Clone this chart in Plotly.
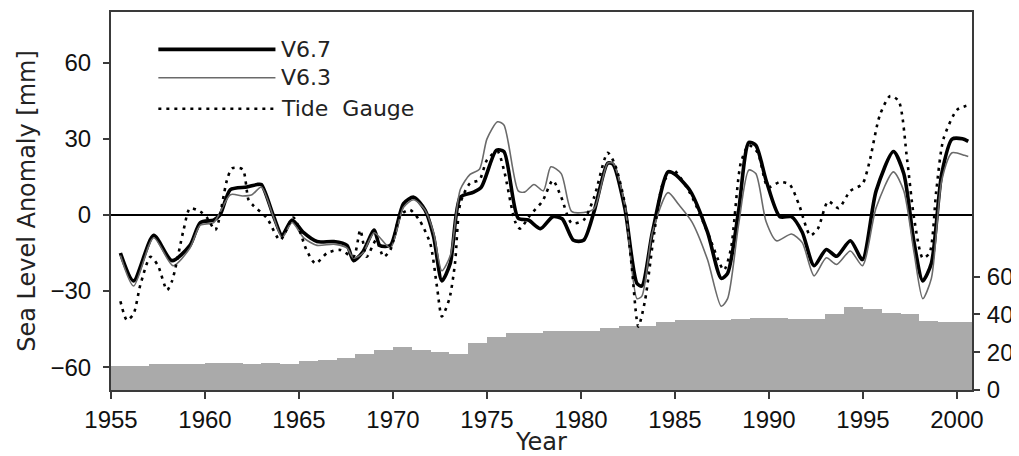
import plotly.graph_objects as go

# ---------------- data ----------------
years_v67 = [1955.5, 1956.2, 1957.27, 1958.24, 1959.2, 1959.75, 1960.46, 1960.8, 1961.35, 1962.23,
             1962.77, 1963.0, 1963.65, 1964.1, 1964.63, 1965.25, 1965.96, 1966.85, 1967.55, 1967.9,
             1968.4, 1969.0, 1969.3, 1969.86, 1970.56, 1971.1, 1971.7, 1972.16, 1972.6, 1973.05,
             1973.58, 1974.29, 1974.7, 1975.5, 1975.9, 1976.66, 1977.2, 1977.85, 1978.5, 1979.0,
             1979.6, 1980.14, 1980.7, 1981.42, 1981.7, 1982.33, 1982.98, 1983.24, 1983.8, 1984.63,
             1985.0, 1985.81, 1986.73, 1987.46, 1987.8, 1988.38, 1988.93, 1989.3, 1989.85, 1990.58,
             1991.2, 1991.77, 1992.4, 1993.05, 1993.6, 1994.33, 1994.97, 1995.7, 1996.62, 1997.17,
             1997.72, 1998.18, 1998.64, 1999.19, 1999.74, 2000.29, 2000.6]
sla_v67 = [-15, -26, -8, -18, -12, -3, -2, 0, 10, 11,
           12, 12, -0.5, -8, -2, -7, -10.5, -10.5, -12, -18,
           -14.5, -6, -12, -12, 4.5, 7, 2, -8.5, -26, -19,
           7, 9, 11, 25.5, 25, -1.3, -2, -5.4, -0.7, -1.5,
           -10, -10, 1.4, 20.4, 20, 2.8, -27, -28, -6.8, 17,
           16, 9.5, -6.8, -25, -23, 1.4, 28.6, 27.5, 13.6, -0.7,
           -0.7, -6.8, -20, -13.6, -16.3, -10.2, -17.6, 9.5, 25, 16.3,
           -10.9, -26, -19, 16.3, 29.9, 30, 29]

years_v63 = [1955.5, 1956.2, 1957.27, 1958.3, 1959.2, 1959.75, 1960.46, 1961.35, 1962.0, 1962.5,
             1963.0, 1963.65, 1964.1, 1964.63, 1965.25, 1965.96, 1966.85, 1967.55, 1967.9, 1968.4,
             1969.0, 1969.86, 1970.56, 1971.1, 1971.7, 1972.16, 1972.6, 1973.05, 1973.58, 1974.1,
             1974.6, 1975.0, 1975.56, 1975.9, 1976.66, 1977.0, 1977.5, 1978.0, 1978.4, 1978.95,
             1979.5, 1980.14, 1980.7, 1981.42, 1981.7, 1982.33, 1982.98, 1983.24, 1983.8, 1984.63,
             1985.2, 1985.9, 1986.73, 1987.46, 1987.8, 1988.38, 1988.93, 1989.3, 1989.85, 1990.4,
             1991.2, 1991.77, 1992.4, 1993.05, 1993.6, 1994.33, 1994.97, 1995.7, 1996.62, 1997.17,
             1997.72, 1998.18, 1998.64, 1999.19, 1999.74, 2000.4, 2000.6]
sla_v63 = [-16, -28, -9, -20, -13, -4, -3, 8, 7.5, 8,
           11, -1, -9, -3, -9, -12, -11.5, -13, -17, -15,
           -7, -13, 3, 6, 2, -7, -22, -16, 10, 16,
           18, 30, 36.7, 35.5, 9.5, 9, 12, 9.5, 19, 16.3,
           1.4, 1, 2.5, 20.4, 20.4, 4, -33, -32, -6.8, 8.8,
           4.1, -2.7, -17.6, -36, -33, -4, 17.7, 16.3, -2.7, -10.2,
           -7.5, -10.9, -24, -16.9, -19.5, -14.2, -20, 2.8, 17, 9.5,
           -14.9, -33, -25, 13.6, 24.5, 23.5, 23]

years_tg = [1955.5, 1955.85, 1956.2, 1956.56, 1957.1, 1957.5, 1957.98, 1958.25, 1958.86, 1959.2,
            1959.75, 1960.1, 1960.55, 1961.17, 1961.44, 1962.0, 1962.32, 1962.6, 1963.3, 1964.0,
            1964.7, 1965.4, 1965.87, 1966.5, 1967.2, 1967.9, 1968.26, 1968.6, 1969.1, 1969.5,
            1969.86, 1970.4, 1970.9, 1971.4, 1971.98, 1972.34, 1972.6, 1973.0, 1973.3, 1973.58,
            1974.1, 1974.6, 1975.0, 1975.56, 1975.9, 1976.5, 1976.75, 1977.3, 1977.95, 1978.5,
            1978.95, 1979.5, 1980.14, 1980.7, 1981.42, 1981.8, 1982.33, 1982.7, 1983.05, 1983.4,
            1983.9, 1984.35, 1984.9, 1985.81, 1986.73, 1987.6, 1987.97, 1988.5, 1988.93, 1989.4,
            1989.95, 1990.58, 1991.1, 1991.6, 1992.2, 1992.6, 1993.15, 1993.7, 1994.33, 1994.97,
            1995.33, 1995.9, 1996.45, 1996.9, 1997.35, 1997.72, 1998.18, 1998.54, 1998.9, 1999.28,
            2000.0, 2000.5]
sla_tg = [-34, -41.5, -39, -27.6, -16.5, -20, -29.6, -26, -5.9, 2.6,
          1.3, -1, -5.9, 13.8, 18.4, 18, 5.9, 3.5, -1.3, -9.9,
          -1, -13.8, -19.1, -15, -13.8, -16.5, -5.9, -16.5, -10, -16.5,
          -13.8, 0, 2, -2, -11.2, -28.3, -40, -33, -19, 4.6,
          12.5, 13.8, 21.7, 25, 17.8, -2.7, -5.4, 0, 5.4, 13.6,
          7, -3.2, -2, 7, 24.5, 20, 4.5, -20.4, -44, -34,
          -6.8, 12.2, 17.7, 8.5, -6.8, -21.7, -13.6, 20.4, 27.5, 24.6,
          10.9, 13, 12, 4, -8.1, -5.4, 5.4, 2.7, 9.5, 12.2,
          20.4, 39.4, 46.9, 44.9, 21.7, -1.3, -17, -15, 9.5, 29.9,
          41.4, 43]

bar_years = list(range(1955, 2001))
bar_counts = [12.5, 12.7, 13.5, 14, 14, 14.5, 14.5, 14, 14.5, 14,
              15.5, 16, 17, 19, 21, 23, 21, 20, 19, 25,
              28, 30, 30, 31, 31, 31, 33, 34, 34, 36,
              37, 37, 37, 37.5, 38, 38, 37.5, 37.5, 40, 44,
              43, 41, 40, 36.5, 36, 36]

series_names = ["V6.7", "V6.3", "Tide\u00a0\u00a0Gauge"]
x_ticks = [1955, 1960, 1965, 1970, 1975, 1980, 1985, 1990, 1995, 2000]
y_ticks = [-60, -30, 0, 30, 60]
y2_ticks = [0, 20, 40, 60]

# ---------------- figure ----------------
TICKFONT = dict(family="Liberation Sans", size=24, color="#111")
TITLEFONT = dict(family="DejaVu Sans", size=24, color="#222")
FRAME = "#3a3a3a"

fig = go.Figure()

# gauge counts (bars) on primary axis (right side)
fig.add_trace(go.Bar(x=bar_years, y=bar_counts, width=[1] * len(bar_years), offset=0,
                     marker=dict(color="#aaaaaa", line=dict(width=0)),
                     yaxis="y", xaxis="x", showlegend=False, hoverinfo="skip"))

line_styles = [
    dict(color="#000000", width=3.6),
    dict(color="#6a6a6a", width=1.6),
    dict(color="#000000", width=2.6, dash="3px,5px"),
]
for name, xs, ys, st in zip(series_names, [years_v67, years_v63, years_tg],
                            [sla_v67, sla_v63, sla_tg], line_styles):
    fig.add_trace(go.Scatter(x=xs, y=ys, mode="lines", name=name.replace("\u00a0\u00a0", " "),
                             line=dict(shape="spline", smoothing=0.7, **st),
                             yaxis="y2", xaxis="x", showlegend=False))

# page body has an 8px margin, so the figure is 8px smaller than the window
fig.update_layout(
    width=1011, height=448,
    margin=dict(l=103, r=47, t=4, b=66, autoexpand=False),
    paper_bgcolor="white", plot_bgcolor="white",
    bargap=0,
    xaxis=dict(range=[1955, 2000.8], tickvals=x_ticks, ticks="outside", ticklen=7,
               tickwidth=1.5, tickcolor=FRAME, showline=True, linecolor=FRAME,
               linewidth=2, mirror=True, showgrid=False, zeroline=False,
               tickfont=TICKFONT, automargin=False,
               title=dict(text="Year", font=TITLEFONT, standoff=0)),
    yaxis=dict(range=[0, 200], tickvals=y2_ticks, side="right", ticks="outside",
               ticklen=6, tickwidth=1.5, tickcolor=FRAME, showline=True, linecolor=FRAME,
               linewidth=2, showgrid=False, zeroline=False, tickfont=TICKFONT,
               ticklabelstandoff=2, automargin=False),
    yaxis2=dict(range=[-69, 80], tickvals=y_ticks, side="left", overlaying="y",
                ticks="outside", ticklen=6, tickwidth=1.5, tickcolor=FRAME,
                showline=True, linecolor=FRAME, linewidth=2, showgrid=False,
                zeroline=True, zerolinecolor="#000000", zerolinewidth=1.5,
                tickfont=TICKFONT, ticklabelstandoff=7, automargin=False,
                title=dict(text="Sea Level Anomaly [mm]", font=TITLEFONT, standoff=8)),
)

# custom legend (long sample lines as in the reference)
legend_y = [0.901, 0.826, 0.744]
for name, st, ly in zip(series_names, line_styles, legend_y):
    fig.add_shape(type="line", xref="paper", yref="paper", x0=0.055, x1=0.191,
                  y0=ly, y1=ly, line=dict(color=st["color"], width=st["width"],
                                          dash=st.get("dash", "solid")))
    fig.add_annotation(xref="paper", yref="paper", x=0.195, y=ly, text=name,
                       showarrow=False, xanchor="left", yanchor="middle",
                       font=dict(family="DejaVu Sans", size=22, color="#222"))

fig.write_html("out.html")
